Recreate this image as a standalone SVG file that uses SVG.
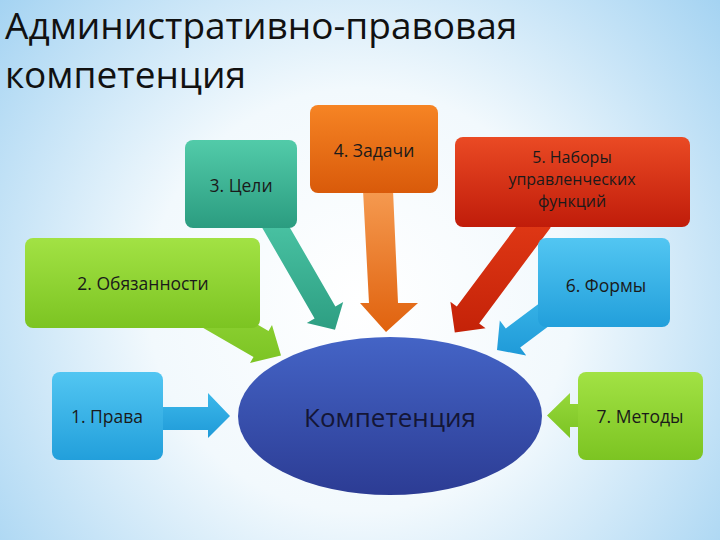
<svg xmlns="http://www.w3.org/2000/svg" width="720" height="540" viewBox="0 0 720 540">
<defs>
<radialGradient id="bg" cx="360" cy="300" r="470" gradientUnits="userSpaceOnUse">
<stop offset="0" stop-color="#ffffff"/>
<stop offset="0.45" stop-color="#f2f9fd"/>
<stop offset="1" stop-color="#a4d3f2"/>
</radialGradient>
<linearGradient id="gOrange" x1="0" y1="0" x2="0" y2="1"><stop offset="0" stop-color="#f68424"/><stop offset="1" stop-color="#d95a0a"/></linearGradient>
<linearGradient id="gTeal" x1="0" y1="0" x2="0" y2="1"><stop offset="0" stop-color="#52cba9"/><stop offset="1" stop-color="#2b9c80"/></linearGradient>
<linearGradient id="gGreen" x1="0" y1="0" x2="0" y2="1"><stop offset="0" stop-color="#a2e244"/><stop offset="1" stop-color="#7cc422"/></linearGradient>
<linearGradient id="gBlue" x1="0" y1="0" x2="0" y2="1"><stop offset="0" stop-color="#52c6f2"/><stop offset="1" stop-color="#229fdb"/></linearGradient>
<linearGradient id="gRed" x1="0" y1="0" x2="0" y2="1"><stop offset="0" stop-color="#ea4a24"/><stop offset="1" stop-color="#c01c0a"/></linearGradient>
<linearGradient id="gEll" x1="0" y1="0" x2="0" y2="1"><stop offset="0" stop-color="#4464c6"/><stop offset="1" stop-color="#2c3c94"/></linearGradient>
<linearGradient id="aOrange" x1="0" y1="0" x2="0" y2="1"><stop offset="0" stop-color="#f59a50"/><stop offset="1" stop-color="#e0620e"/></linearGradient>
<linearGradient id="aTeal" x1="0" y1="0" x2="0" y2="1"><stop offset="0" stop-color="#4cc6a6"/><stop offset="1" stop-color="#2d9e82"/></linearGradient>
<linearGradient id="aGreen" x1="0" y1="0" x2="0" y2="1"><stop offset="0" stop-color="#96d83a"/><stop offset="1" stop-color="#7cc424"/></linearGradient>
<linearGradient id="aBlue" x1="0" y1="0" x2="0" y2="1"><stop offset="0" stop-color="#3cb8ea"/><stop offset="1" stop-color="#1f9ad8"/></linearGradient>
<linearGradient id="aRed" x1="0" y1="0" x2="0" y2="1"><stop offset="0" stop-color="#e23a16"/><stop offset="1" stop-color="#c42208"/></linearGradient>
</defs>
<style>
.t{font-family:"Open Sans","DejaVu Sans",sans-serif;font-size:17.5px;fill:#1a1a1a;text-anchor:middle}
.s{font-size:16px}
.title{font-family:"Open Sans","DejaVu Sans",sans-serif;font-size:37px;fill:#111111}
.big{font-family:"Open Sans","DejaVu Sans",sans-serif;font-size:26px;fill:#141636;text-anchor:middle}
</style>
<rect x="0" y="0" width="720" height="540" fill="url(#bg)"/>
<g id="title">
<text class="title" x="5" y="39">Административно-правовая</text>
<text class="title" x="5" y="88">компетенция</text>
</g>
<g id="connectors">
<polygon fill="url(#aTeal)" points="280.4,211.2 335.4,306.5 343.2,302 335,329.8 306.8,323 314.6,318.5 259.6,223.2"/>
<polygon fill="url(#aOrange)" points="363,190 393,190 398,303 418,303 386,332 360,303 369,303"/>
<polygon fill="url(#aGreen)" points="190.6,286 268.5,331 272,325 281,355.5 250,363 253.5,357 175.6,312"/>
<polygon fill="url(#aBlue)" points="150,407 208,407 208,393 230,416 208,438 208,430 150,430"/>
<polygon fill="url(#aRed)" points="550.7,227.4 479.2,323.4 485.6,328.2 454.8,332.6 450.4,301.8 456.8,306.6 528.3,210.6"/>
<polygon fill="url(#aBlue)" points="576.2,305.6 520.2,347.6 526.2,355.6 497,350 499.8,320.4 505.8,328.4 561.8,286.4"/>
<polygon fill="url(#aGreen)" points="600,404 570,404 570,393 547,415.5 570,438 570,427 600,427"/>
</g>
<g id="n4"><rect x="310" y="105" width="128" height="88" rx="8" fill="url(#gOrange)"/><text class="t" x="374" y="157">4. Задачи</text></g>
<g id="n3"><rect x="185" y="140" width="112" height="88" rx="8" fill="url(#gTeal)"/><text class="t" x="241" y="192">3. Цели</text></g>
<g id="n2"><rect x="25" y="238" width="235" height="90" rx="8" fill="url(#gGreen)"/><text class="t" x="143" y="290">2. Обязанности</text></g>
<g id="n1"><rect x="52" y="372" width="111" height="88" rx="8" fill="url(#gBlue)"/><text class="t" x="107" y="423">1. Права</text></g>
<g id="n5"><rect x="455" y="137" width="235" height="90" rx="8" fill="url(#gRed)"/>
<text class="t s" x="572" y="163">5. Наборы</text><text class="t s" x="572" y="185">управленческих</text><text class="t s" x="572" y="207">функций</text></g>
<g id="n6"><rect x="538" y="238" width="132" height="89" rx="8" fill="url(#gBlue)"/><text class="t" x="606" y="292">6.  Формы</text></g>
<g id="n7"><rect x="578" y="372" width="125" height="88" rx="8" fill="url(#gGreen)"/><text class="t" x="640" y="423">7. Методы</text></g>
<g id="center"><ellipse cx="390" cy="416" rx="152" ry="79" fill="url(#gEll)"/><text class="big" x="390" y="427">Компетенция</text></g>
</svg>
